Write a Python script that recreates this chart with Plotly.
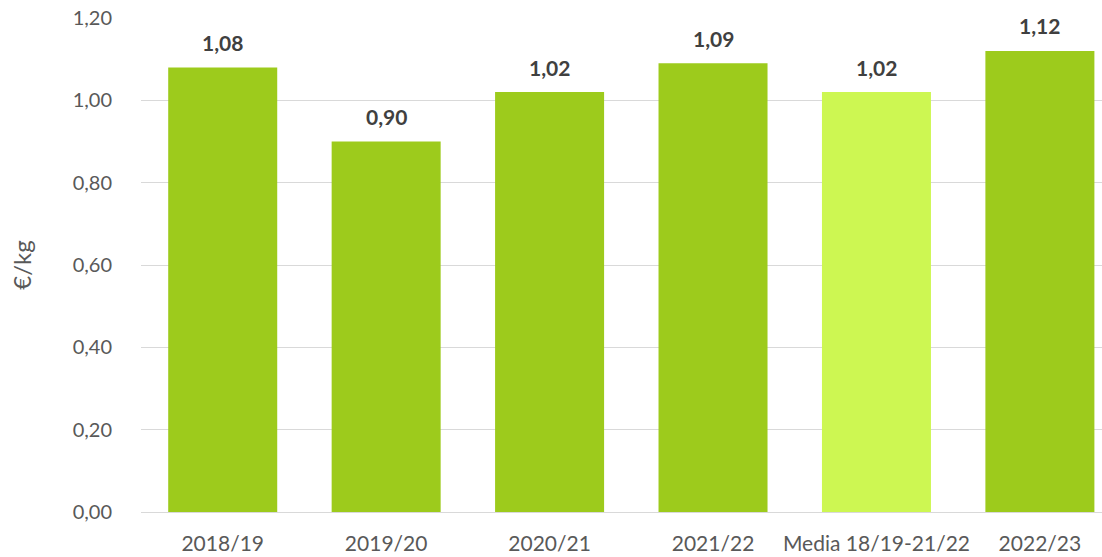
import plotly.graph_objects as go

categories = ["2018/19", "2019/20", "2020/21", "2021/22", "Media 18/19-21/22", "2022/23"]
values = [1.08, 0.90, 1.02, 1.09, 1.02, 1.12]
value_labels = ["1,08", "0,90", "1,02", "1,09", "1,02", "1,12"]
bar_colors = ["#9DCB1C", "#9DCB1C", "#9DCB1C", "#9DCB1C", "#CDF752", "#9DCB1C"]
y_ticks = [0.0, 0.2, 0.4, 0.6, 0.8, 1.0, 1.2]

FONT = "Lato, Open Sans, sans-serif"

fig = go.Figure()
fig.add_trace(go.Bar(
    x=list(range(len(categories))),
    y=values,
    marker=dict(color=bar_colors, line=dict(width=0)),
    hoverinfo="skip",
))

for i, (v, lab) in enumerate(zip(values, value_labels)):
    fig.add_annotation(
        x=i, y=v, text="<b>" + lab + "</b>", showarrow=False,
        yshift=25, font=dict(family=FONT, size=21, color="#404040"),
    )

fig.update_layout(
    width=1102, height=557,
    margin=dict(l=141, r=0, t=18, b=45),
    paper_bgcolor="white", plot_bgcolor="white",
    separators=",.",
    bargap=0.333,
    showlegend=False,
    hovermode=False,
    font=dict(family=FONT, color="#595959"),
    xaxis=dict(
        tickmode="array",
        tickvals=list(range(len(categories))),
        ticktext=categories,
        range=[-0.5, 5.38],
        showgrid=False,
        showline=True, linecolor="#D9D9D9", linewidth=1,
        ticks="outside", ticklen=13, tickcolor="rgba(0,0,0,0)",
        tickfont=dict(size=21, color="#595959"),
        zeroline=False,
        automargin=False,
    ),
    yaxis=dict(
        range=[0, 1.2],
        tickmode="array",
        tickvals=y_ticks,
        tickformat=".2f",
        ticklabeloverflow="allow",
        showgrid=True, gridcolor="#D9D9D9", gridwidth=1,
        zeroline=False,
        showline=False,
        ticks="outside", ticklen=24, tickcolor="rgba(0,0,0,0)",
        tickfont=dict(size=20, color="#595959"),
        title=dict(text="€/kg", font=dict(size=24, color="#595959"), standoff=34),
        automargin=False,
    ),
)

# remove the browser's default 8px body margin so the figure fills the window
fig.write_html(
    "out.html",
    config={"displayModeBar": False},
    post_script="document.body.style.margin='0';",
)
